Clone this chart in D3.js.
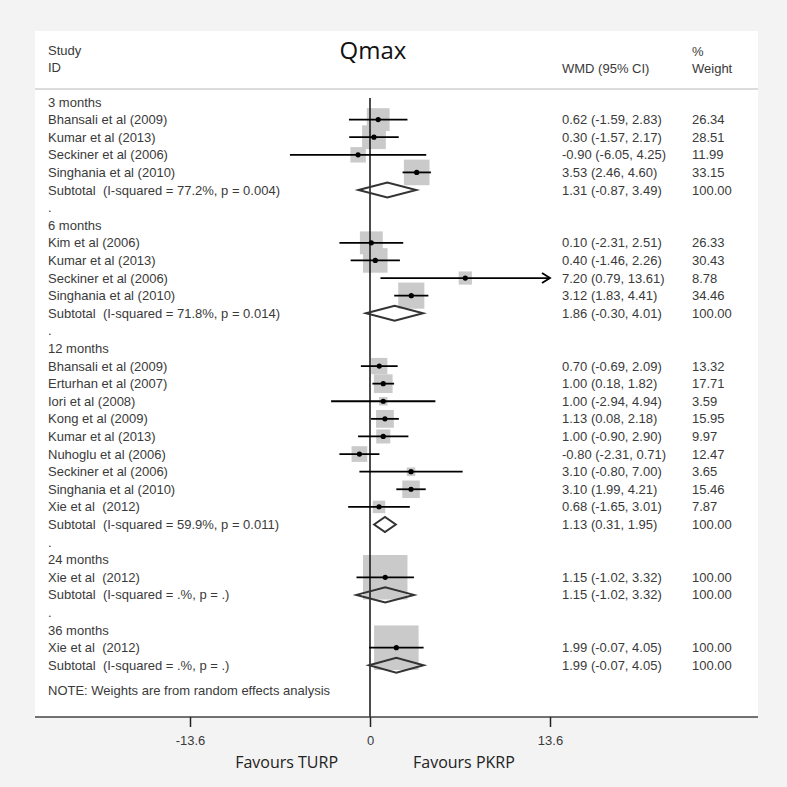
<!DOCTYPE html>
<html>
<head>
<meta charset="utf-8">
<script src="https://cdnjs.cloudflare.com/ajax/libs/d3/7.8.5/d3.min.js"></script>
<style>
  body { margin: 0; background: #f3f3f3; }
  text { font-family: "Liberation Sans", Arial, sans-serif; font-size: 13px; fill: #3a3a3a; white-space: pre; }
</style>
</head>
<body>
<svg id="chart" width="787" height="787"></svg>
<script>
width = 787;
height = 787;

// subgroups
const groups = ["3 months", "6 months", "12 months", "24 months", "36 months"];

// individual studies
const studyGroup = [0, 0, 0, 0, 1, 1, 1, 1, 2, 2, 2, 2, 2, 2, 2, 2, 2, 3, 4];
const studyNames = [
    "Bhansali et al (2009)", "Kumar et al (2013)", "Seckiner et al (2006)", "Singhania et al (2010)",
    "Kim et al (2006)", "Kumar et al (2013)", "Seckiner et al (2006)", "Singhania et al (2010)",
    "Bhansali et al (2009)", "Erturhan et al (2007)", "Iori et al (2008)", "Kong et al (2009)",
    "Kumar et al (2013)", "Nuhoglu et al (2006)", "Seckiner et al (2006)", "Singhania et al (2010)",
    "Xie et al  (2012)", "Xie et al  (2012)", "Xie et al  (2012)"
];
const studyWmd = [0.62, 0.30, -0.90, 3.53, 0.10, 0.40, 7.20, 3.12, 0.70, 1.00, 1.00, 1.13, 1.00, -0.80, 3.10, 3.10, 0.68, 1.15, 1.99];
const studyLow = [-1.59, -1.57, -6.05, 2.46, -2.31, -1.46, 0.79, 1.83, -0.69, 0.18, -2.94, 0.08, -0.90, -2.31, -0.80, 1.99, -1.65, -1.02, -0.07];
const studyHigh = [2.83, 2.17, 4.25, 4.60, 2.51, 2.26, 13.61, 4.41, 2.09, 1.82, 4.94, 2.18, 2.90, 0.71, 7.00, 4.21, 3.01, 3.32, 4.05];
const studyWeight = [26.34, 28.51, 11.99, 33.15, 26.33, 30.43, 8.78, 34.46, 13.32, 17.71, 3.59, 15.95, 9.97, 12.47, 3.65, 15.46, 7.87, 100.00, 100.00];

// subtotals
const subLabels = [
    "Subtotal  (I-squared = 77.2%, p = 0.004)",
    "Subtotal  (I-squared = 71.8%, p = 0.014)",
    "Subtotal  (I-squared = 59.9%, p = 0.011)",
    "Subtotal  (I-squared = .%, p = .)",
    "Subtotal  (I-squared = .%, p = .)"
];
const subWmd = [1.31, 1.86, 1.13, 1.15, 1.99];
const subLow = [-0.87, -0.30, 0.31, -1.02, -0.07];
const subHigh = [3.49, 4.01, 1.95, 3.32, 4.05];

const xTicks = [-13.6, 0, 13.6];

const locale = d3.formatLocale({decimal: ".", thousands: ",", grouping: [3], currency: ["", ""], minus: "-"});
const f2 = locale.format(".2f");

// build the row list
var rows = [];
groups.forEach((g, gi) => {
    if (gi > 0) rows.push({type: "dot", label: "."});
    rows.push({type: "head", label: g});
    studyNames.forEach((n, i) => {
        if (studyGroup[i] !== gi) return;
        rows.push({type: "study", label: n, est: studyWmd[i], lo: studyLow[i], hi: studyHigh[i], w: studyWeight[i]});
    });
    rows.push({type: "sub", label: subLabels[gi], est: subWmd[gi], lo: subLow[gi], hi: subHigh[gi], w: 100});
});
rows.forEach((r, i) => r.idx = i);

const svg = d3.select("#chart");

var x = d3.scaleLinear().domain([-13.6, 13.6]).range([190, 550]);
var y = d3.scaleLinear().domain([0, rows.length - 1]).range([102, 665.3]);
var boxSide = d => 4.45 * Math.sqrt(d.w);

const panelL = 35, panelR = 758, panelT = 31, axisY = 717;

svg.append("rect")
    .attr("x", panelL).attr("y", panelT)
    .attr("width", panelR - panelL).attr("height", axisY - panelT)
    .attr("fill", "#fff");

// header
svg.append("text").attr("x", 48).attr("y", 55).text("Study");
svg.append("text").attr("x", 48).attr("y", 72).text("ID");
svg.append("text").attr("x", 562).attr("y", 73).text("WMD (95% CI)");
svg.append("text").attr("x", 692).attr("y", 56).text("%");
svg.append("text").attr("x", 692).attr("y", 73).text("Weight");
svg.append("text")
    .attr("x", 373).attr("y", 59)
    .attr("text-anchor", "middle")
    .style("font-family", "'Open Sans', sans-serif")
    .style("font-size", "24px")
    .style("fill", "#111")
    .text("Qmax");

svg.append("line")
    .attr("x1", panelL).attr("x2", panelR)
    .attr("y1", 89).attr("y2", 89)
    .attr("stroke", "#cfcfcf").attr("stroke-width", 1.5);

// left labels
svg.append("g").selectAll("text")
    .data(rows)
    .join("text")
    .attr("x", 48)
    .attr("y", d => y(d.idx) + 4.5)
    .text(d => d.label);

// right columns
var valued = rows.filter(d => d.type === "study" || d.type === "sub");
svg.append("g").selectAll("text")
    .data(valued)
    .join("text")
    .attr("x", 562)
    .attr("y", d => y(d.idx) + 4.5)
    .text(d => f2(d.est) + " (" + f2(d.lo) + ", " + f2(d.hi) + ")");
svg.append("g").selectAll("text")
    .data(valued)
    .join("text")
    .attr("x", 692)
    .attr("y", d => y(d.idx) + 4.5)
    .text(d => f2(d.w));

svg.append("text").attr("x", 48).attr("y", y(rows.length - 1 + 1.45) + 4.5)
    .text("NOTE: Weights are from random effects analysis");

var studies = rows.filter(d => d.type === "study");
var subs = rows.filter(d => d.type === "sub");

// weight boxes
svg.append("g").selectAll("rect")
    .data(studies)
    .join("rect")
    .attr("x", d => x(d.est) - boxSide(d) / 2)
    .attr("y", d => y(d.idx) - boxSide(d) / 2)
    .attr("width", boxSide)
    .attr("height", boxSide)
    .attr("fill", "#cacaca");

// null line
svg.append("line")
    .attr("x1", x(0)).attr("x2", x(0))
    .attr("y1", 98).attr("y2", axisY)
    .attr("stroke", "#111").attr("stroke-width", 1.5);

// confidence intervals
var xMax = x.domain()[1];
svg.append("g").selectAll("line")
    .data(studies)
    .join("line")
    .attr("x1", d => x(d.lo))
    .attr("x2", d => x(Math.min(d.hi, xMax)))
    .attr("y1", d => y(d.idx))
    .attr("y2", d => y(d.idx))
    .attr("stroke", "#000").attr("stroke-width", 1.8);

svg.append("g").selectAll("path")
    .data(studies.filter(d => d.hi > xMax))
    .join("path")
    .attr("d", d => {
        let px = x(xMax), py = y(d.idx);
        return "M" + (px - 8) + "," + (py - 5) + "L" + px + "," + py + "L" + (px - 8) + "," + (py + 5);
    })
    .attr("fill", "none").attr("stroke", "#000").attr("stroke-width", 1.8);

svg.append("g").selectAll("circle")
    .data(studies)
    .join("circle")
    .attr("cx", d => x(d.est))
    .attr("cy", d => y(d.idx))
    .attr("r", 2.6)
    .attr("fill", "#000");

// subtotal diamonds
svg.append("g").selectAll("path")
    .data(subs)
    .join("path")
    .attr("d", d => {
        let cy = y(d.idx), h = 7.5;
        return "M" + x(d.lo) + "," + cy + "L" + x(d.est) + "," + (cy - h) +
            "L" + x(d.hi) + "," + cy + "L" + x(d.est) + "," + (cy + h) + "Z";
    })
    .attr("fill", "none").attr("stroke", "#333").attr("stroke-width", 2);

// x axis
svg.append("line")
    .attr("x1", panelL).attr("x2", panelR)
    .attr("y1", axisY).attr("y2", axisY)
    .attr("stroke", "#444").attr("stroke-width", 1.5);

var axis = svg.append("g")
    .attr("transform", "translate(0," + axisY + ")")
    .call(d3.axisBottom(x).tickValues(xTicks).tickSize(10).tickPadding(9).tickFormat(locale.format(".1~f")));
axis.select(".domain").remove();
axis.selectAll(".tick line").attr("stroke", "#222").attr("stroke-width", 1.5);
axis.selectAll(".tick text").style("font-family", "'Liberation Sans', Arial, sans-serif").style("font-size", "13px").attr("fill", "#3a3a3a");

svg.append("text")
    .attr("x", 338).attr("y", 768)
    .attr("text-anchor", "end")
    .style("font-family", "'Open Sans', sans-serif")
    .style("font-size", "16px")
    .style("fill", "#222")
    .text("Favours TURP");
svg.append("text")
    .attr("x", 413).attr("y", 768)
    .style("font-family", "'Open Sans', sans-serif")
    .style("font-size", "16px")
    .style("fill", "#222")
    .text("Favours PKRP");
</script>
</body>
</html>
